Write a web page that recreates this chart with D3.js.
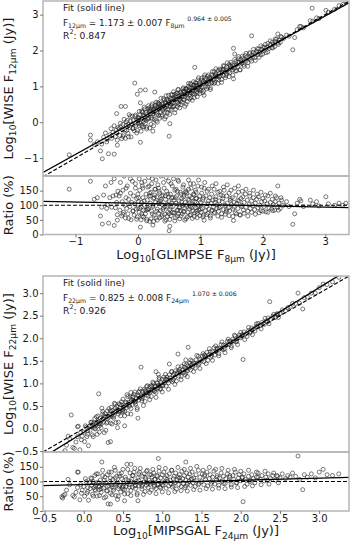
<!DOCTYPE html>
<html>
<head>
<meta charset="utf-8">
<script src="https://cdn.jsdelivr.net/npm/d3@7"></script>
<style>
  body { margin: 0; background: #fff; }
  text, tspan { font-family: "DejaVu Sans", sans-serif; fill: #1a1a1a; }
</style>
</head>
<body>
<svg id="chart" width="350" height="542"></svg>
<script>
// ---- data ----
const ticks8 = [-1, 0, 1, 2, 3];
const ticks24 = [-0.5, 0, 0.5, 1, 1.5, 2, 2.5, 3];
const ticksRatio = [0, 50, 100, 150];

// [log10 GLIMPSE F8um, log10 WISE F12um]
const pts12 = [
  [-1.10,-0.91],[-0.76,-0.36],[-0.76,-0.50],[-0.70,-0.62],[-0.65,-0.55],[-0.60,-0.80],[-0.58,-0.61],[-0.57,-1.02],
  [-0.55,-0.42],[-0.52,-0.30],[-0.50,-0.55],[-0.49,-0.48],[-0.47,-0.88],[-0.45,-0.35],[-0.43,-0.18],[-0.42,-0.45],
  [-0.40,-0.28],[-0.38,-0.89],[-0.38,-0.10],[-0.36,-0.40],[-0.35,-0.22],[-0.34,0.24],[-0.34,-0.30],[-0.33,-0.50],
  [-0.33,-0.64],[-0.32,-0.15],
  [-0.30,-0.18],[-0.29,-0.37],[-0.28,-0.03],[-0.27,0.44],[-0.26,-0.46],[-0.25,-0.20],[-0.24,-0.06],[-0.23,-0.35],
  [-0.22,0.08],[-0.21,-0.21],[-0.20,0.44],[-0.20,-0.45],[-0.19,-0.09],[-0.18,-0.23],[-0.17,0.05],[-0.16,-0.31],
  [-0.15,-0.07],[-0.14,0.21],[-0.13,-0.15],[-0.12,0.03],[-0.11,-0.41],[-0.10,-0.06],[-0.09,0.17],[-0.08,-0.18],
  [-0.07,0.05],[-0.06,-0.24],[-0.05,1.09],[-0.05,-0.03],[-0.04,0.16],[-0.03,-0.09],[-0.02,0.07],[-0.01,0.78],
  [-0.01,-0.23],[0.00,0.14],[0.00,-0.04],
  [-0.28,-0.13],[-0.24,-0.40],[-0.19,0.01],[-0.15,-0.41],[-0.12,0.16],[-0.08,-0.17],[-0.04,0.20],[-0.02,-0.30],
  [0.01,0.06],[0.02,-0.10],[0.03,0.21],[0.04,0.89],[0.04,0.54],[0.04,-0.56],[0.05,0.02],[0.06,0.31],[0.07,-0.13],
  [0.08,0.18],[0.09,0.01],[0.10,0.42],[0.11,0.11],[0.12,0.90],[0.12,-0.03],[0.13,0.27],[0.14,-0.14],[0.15,0.22],
  [0.16,0.37],[0.17,0.12],[0.18,0.30],[0.19,-0.16],[0.20,0.23],[0.21,0.37],[0.22,0.12],[0.23,0.51],[0.24,-0.25],
  [0.24,0.22],[0.25,0.34],[0.26,0.08],[0.27,0.84],[0.27,0.46],[0.28,0.32],[0.29,0.04],[0.30,0.41],[0.31,0.25],
  [0.32,0.55],[0.33,0.19],[0.34,0.40],[0.35,0.50],[0.36,0.27],[0.37,0.67],[0.38,0.16],[0.39,0.40],[0.40,0.53],
  [0.41,0.37],[0.42,0.62],[0.43,0.27],[0.44,0.52],[0.45,0.15],[0.46,0.63],[0.47,0.49],[0.48,0.37],[0.49,0.75],
  [0.50,-0.39],[0.50,0.55],[0.51,-0.04],[0.51,0.44],[0.52,0.66],[0.53,0.34],[0.54,0.64],[0.55,0.77],[0.56,0.54],
  [0.57,0.44],[0.58,0.65],[0.59,0.77],[0.60,0.36],[0.61,0.64],[0.62,0.74],[0.63,0.55],[0.64,0.91],[0.65,0.50],
  [0.66,0.72],[0.67,0.64],[0.68,0.84],[0.69,0.49],[0.70,0.79],[0.71,0.71],[0.72,0.93],[0.73,0.63],[0.74,0.87],
  [0.75,0.70],[0.76,0.80],[0.77,0.50],[0.78,0.93],[0.79,0.80],[0.80,0.68],[0.81,1.00],[0.82,0.89],[0.83,0.77],
  [0.84,1.08],[0.85,0.68],[0.86,0.96],[0.87,0.89],[0.88,0.79],[0.89,1.03],[0.90,0.69],[0.91,1.53],[0.91,0.96],
  [0.92,1.10],[0.93,0.89],[0.94,1.03],[0.95,0.81],[0.96,1.18],[0.97,0.97],[0.98,0.90],[0.99,1.11],[1.00,1.04],
  [0.03,-0.02],[0.08,0.28],[0.13,0.05],[0.18,0.40],[0.23,0.08],[0.28,0.47],[0.33,0.36],[0.38,0.50],[0.43,0.41],
  [0.48,0.62],[0.53,0.50],[0.58,0.45],[0.63,0.80],[0.68,0.59],[0.73,0.84],[0.78,0.76],[0.83,0.95],[0.88,0.93],
  [0.93,1.02],[0.98,1.05],[0.06,0.10],[0.16,0.09],[0.26,0.36],[0.36,0.42],[0.46,0.44],[0.56,0.66],[0.66,0.62],
  [0.76,0.92],[0.86,0.82],[0.96,0.93],
  [0.02,0.30],[0.05,-0.25],[0.07,0.29],[0.09,-0.13],[0.11,0.37],[0.14,-0.19],[0.17,0.46],[0.19,0.34],[0.21,-0.06],
  [0.22,0.46],[0.25,-0.10],[0.27,0.40],[0.29,0.56],[0.31,0.00],[0.33,0.53],[0.35,0.11],[0.37,0.45],[0.39,0.21],
  [0.41,0.66],[0.43,0.09],[0.45,0.74],[0.47,0.26],[0.49,0.60],[0.51,0.22],[0.53,0.77],[0.55,0.43],[0.57,0.85],
  [0.59,0.26],[0.61,0.80],[0.63,0.43],[0.65,0.91],[0.67,0.40],[0.69,0.83],[0.71,0.56],[0.73,0.96],[0.75,0.44],
  [0.77,0.94],[0.79,0.57],[0.81,1.08],[0.83,0.65],[0.85,1.05],[0.87,0.61],[0.89,1.13],[0.91,0.78],[0.93,1.09],
  [0.95,0.71],[0.97,1.24],[0.99,0.80],
  [0.01,0.11],[0.06,-0.09],[0.10,0.16],[0.15,0.09],[0.20,0.32],[0.24,0.24],[0.30,0.20],[0.34,0.51],[0.40,0.33],
  [0.44,0.56],[0.50,0.35],[0.54,0.57],[0.60,0.70],[0.64,0.56],[0.70,0.75],[0.74,0.63],[0.80,0.88],[0.84,0.82],
  [0.90,1.03],[0.94,0.84],[1.00,0.94],
  [1.01,0.89],[1.02,1.17],[1.03,0.98],[1.04,1.12],[1.05,0.87],[1.06,0.75],[1.06,1.26],[1.07,1.09],[1.08,0.99],
  [1.09,1.21],[1.10,1.08],[1.11,1.28],[1.12,0.98],[1.13,1.19],[1.14,1.08],[1.15,1.25],[1.16,0.96],[1.17,1.20],
  [1.18,1.32],[1.19,1.11],[1.20,1.27],[1.21,1.18],[1.22,1.41],[1.23,1.11],[1.24,1.28],[1.25,1.36],[1.26,1.21],
  [1.27,1.28],[1.28,1.44],[1.29,1.19],[1.30,1.36],[1.32,1.30],[1.33,1.46],[1.34,1.19],[1.35,1.40],[1.36,1.45],
  [1.37,1.30],[1.38,1.56],[1.40,1.40],[1.41,1.30],[1.42,1.54],[1.43,1.46],[1.45,1.41],[1.46,1.61],[1.47,1.38],
  [1.48,1.55],[1.50,1.51],[1.51,1.61],[1.52,1.46],[1.53,2.06],[1.53,1.21],[1.54,1.58],[1.55,1.90],[1.56,1.43],
  [1.57,1.70],[1.58,1.60],[1.60,1.55],[1.61,1.77],[1.62,1.68],[1.63,1.46],[1.65,1.74],[1.66,1.64],[1.68,1.79],
  [1.69,1.61],[1.70,1.74],[1.72,1.86],[1.73,1.70],[1.75,1.82],[1.76,1.66],[1.78,1.79],[1.79,1.91],[1.80,1.75],
  [1.82,2.41],[1.82,1.88],[1.84,1.83],[1.85,1.95],[1.87,1.80],[1.88,1.91],[1.90,1.98],[1.92,1.88],[1.93,2.04],
  [1.95,1.95],[1.97,1.88],[1.98,2.03],[2.00,2.09],[2.02,2.00],[2.03,2.09],[2.05,1.94],[2.07,2.09],[2.08,2.20],
  [2.10,2.06],[2.12,2.16],[2.14,2.08],[2.15,2.23],[2.17,2.18],[2.19,2.11],[2.20,2.25],[2.22,2.32],[2.24,2.46],
  [2.24,2.21],[2.26,2.29],[2.28,2.23],[2.30,2.37],
  [1.02,1.23],[1.04,0.82],[1.07,1.32],[1.10,0.93],[1.13,1.32],[1.16,0.91],[1.19,1.41],[1.22,1.08],[1.25,1.49],
  [1.28,1.08],[1.31,1.48],[1.34,1.11],[1.37,1.58],[1.40,1.24],[1.43,1.66],[1.46,1.27],[1.49,1.67],[1.52,1.31],
  [1.55,1.75],[1.58,1.43],[1.61,1.83],[1.64,1.46],[1.67,1.84],[1.70,1.56],[1.73,1.92],[1.76,1.56],[1.79,1.94],
  [1.82,1.70],[1.85,2.03],[1.88,1.72],[1.91,2.05],[1.94,1.81],[1.97,2.13],[2.00,1.90],[2.04,2.17],[2.08,1.96],
  [2.12,2.27],[2.16,2.07],[2.20,2.32],[2.25,2.17],[2.29,2.39],
  [1.05,1.15],[1.12,1.14],[1.18,1.09],[1.24,1.32],[1.30,1.26],[1.36,1.48],[1.42,1.35],[1.48,1.57],[1.54,1.51],
  [1.60,1.67],[1.66,1.66],
  [2.33,2.33],[2.38,2.43],[2.42,2.40],[2.48,2.02],[2.51,2.36],[2.55,2.58],[2.59,2.67],[2.61,2.67],[2.65,2.63],
  [2.76,2.83],[2.79,3.18],[2.80,2.82],[2.86,2.91],[2.90,2.89],[3.01,3.12],[3.05,3.07],[3.15,3.15],[3.22,3.25],
  [3.28,3.28],[3.33,3.36]
];

// [log10 MIPSGAL F24um, log10 WISE F22um]
const pts22 = [
  [-0.28,-0.60],[-0.27,-0.63],[-0.26,-0.54],[-0.22,-0.37],[-0.20,-0.17],[-0.16,0.30],[-0.14,-0.42],[-0.10,-0.30],
  [-0.08,-0.18],[-0.07,0.05],[-0.05,-0.47],[-0.04,-0.09],[-0.02,-0.17],[0.00,-0.08],[0.02,0.06],[0.04,-0.18],
  [-0.24,-0.49],[-0.18,-0.23],[-0.12,-0.44],[-0.08,0.04],[-0.03,-0.25],[0.01,-0.29],[0.03,0.03],
  [0.05,-0.13],[0.06,-0.38],[0.07,0.05],[0.08,-0.04],[0.09,0.14],[0.10,0.04],[0.11,-0.14],[0.12,0.12],[0.13,0.03],
  [0.14,0.22],[0.15,-0.01],[0.16,0.12],[0.17,-0.13],[0.18,0.28],[0.19,0.77],[0.19,0.11],[0.20,0.06],[0.21,0.23],
  [0.22,0.02],[0.23,0.18],[0.24,0.38],[0.25,0.14],[0.26,-0.09],[0.27,0.33],[0.28,0.26],[0.29,0.12],[0.30,0.39],
  [0.31,-0.31],[0.32,0.25],[0.33,0.33],[0.34,-0.29],[0.34,0.12],[0.35,0.47],[0.36,0.27],[0.37,0.40],[0.38,0.23],
  [0.39,0.56],[0.40,0.36],[0.41,0.13],[0.42,0.49],[0.43,0.02],[0.43,0.42],[0.44,0.32],[0.45,0.55],[0.46,0.40],
  [0.47,0.28],[0.48,0.52],[0.49,0.39],[0.50,0.65],[0.51,0.48],[0.52,0.06],[0.52,0.38],[0.53,0.59],[0.54,0.46],
  [0.55,0.75],[0.56,0.33],[0.57,0.58],[0.58,0.53],[0.59,0.70],[0.60,0.44],[0.61,0.64],[0.62,0.53],[0.63,0.71],
  [0.64,0.62],[0.65,0.81],[0.66,0.54],[0.67,0.67],[0.68,0.42],[0.69,0.23],[0.69,0.74],[0.70,0.63],[0.71,0.83],
  [0.72,0.69],[0.73,1.36],[0.74,0.61],[0.75,0.82],[0.76,0.75],[0.77,0.87],[0.78,0.60],[0.79,0.83],[0.80,0.74],
  [0.81,0.95],[0.82,0.72],[0.83,0.85],[0.84,0.93],[0.85,0.81],[0.86,0.71],[0.87,0.93],[0.88,0.86],[0.89,1.00],
  [0.90,0.82],[0.91,0.94],[0.92,1.26],[0.92,0.80],[0.93,1.01],[0.94,0.89],[0.95,0.96],[0.96,1.09],[0.97,0.88],
  [0.98,1.03],[0.99,0.97],[1.00,1.09],
  [0.05,-0.05],[0.15,0.08],[0.25,0.22],[0.35,0.30],[0.45,0.37],[0.55,0.52],[0.65,0.58],[0.75,0.70],[0.85,0.84],
  [0.95,0.91],[0.10,0.14],[0.20,0.11],[0.30,0.22],[0.40,0.45],[0.50,0.42],[0.60,0.60],[0.70,0.72],[0.80,0.79],
  [0.90,0.93],[1.00,0.95],
  [0.12,-0.18],[0.16,0.26],[0.20,-0.08],[0.24,0.32],[0.28,-0.04],[0.32,0.44],[0.36,0.10],[0.40,0.54],[0.44,0.14],
  [0.48,0.59],[0.52,0.28],[0.56,0.71],[0.60,0.32],[0.64,0.76],[0.68,0.46],[0.72,0.88],[0.76,0.51],[0.80,0.93],
  [0.84,0.64],[0.88,1.03],[0.92,0.69],[0.96,1.13],[0.23,0.45],[0.60,0.80],[0.95,1.20],
  [0.08,0.06],[0.14,0.00],[0.18,0.17],[0.22,0.10],[0.26,0.28],[0.30,0.14],[0.34,0.39],[0.38,0.27],[0.42,0.38],
  [0.46,0.53],[0.50,0.37],[0.54,0.57],[0.58,0.49],[0.62,0.70],[0.66,0.60],[0.70,0.80],[0.74,0.66],[0.78,0.84],
  [0.82,0.79],[0.86,0.95],[0.90,0.84],[0.94,1.01],[0.98,0.87],
  [1.01,0.95],[1.02,1.14],[1.03,1.02],[1.04,1.09],[1.05,0.94],[1.06,1.14],[1.07,1.07],[1.08,1.01],[1.09,1.43],
  [1.09,1.19],[1.10,1.12],[1.11,1.07],[1.12,1.26],[1.13,1.04],[1.14,1.18],[1.15,1.22],[1.16,1.14],[1.17,1.28],
  [1.18,1.05],[1.19,1.22],[1.20,1.65],[1.20,1.26],[1.21,1.16],[1.22,1.31],[1.23,1.24],[1.24,1.16],[1.25,1.38],
  [1.26,1.30],[1.27,1.24],[1.28,1.36],[1.29,1.19],[1.30,1.32],[1.31,1.42],[1.32,1.28],[1.33,1.80],[1.33,1.39],
  [1.34,1.34],[1.35,1.45],[1.36,1.30],[1.37,1.40],[1.38,1.50],[1.39,1.37],[1.40,1.45],[1.42,1.34],[1.43,1.52],
  [1.44,1.45],[1.46,1.60],[1.47,1.44],[1.48,1.54],[1.50,1.50],[1.51,1.61],[1.53,1.48],[1.54,1.61],[1.55,1.58],
  [1.57,1.69],[1.58,1.51],[1.60,1.64],[1.61,1.70],[1.63,1.62],[1.64,1.70],[1.66,1.79],[1.67,1.63],[1.69,1.71],
  [1.70,1.78],[1.72,1.66],[1.73,1.78],[1.75,1.86],[1.76,1.76],[1.78,1.85],[1.80,1.77],[1.81,1.85],[1.83,1.93],
  [1.85,1.86],[1.86,1.92],[1.88,1.83],[1.90,1.98],[1.91,1.94],[1.93,2.05],[1.95,1.93],[1.97,2.02],[1.98,2.07],
  [2.00,2.01],[2.02,2.08],[2.03,1.53],[2.04,2.14],[2.06,2.09],[2.08,2.04],[2.10,2.17],[2.12,2.14],[2.14,2.23],
  [2.16,2.20],[2.18,2.16],[2.20,2.26],[2.22,2.33],[2.25,2.28],[2.27,2.35],[2.30,2.31],[2.32,2.38],[2.35,2.45],
  [2.37,2.81],[2.38,2.42],[2.41,2.49],[2.44,2.46],[2.47,2.54],[2.50,2.55],
  [1.00,0.81],[1.04,1.20],[1.08,0.87],[1.12,1.26],[1.16,0.98],[1.20,1.37],[1.24,1.08],[1.28,1.43],[1.32,1.15],
  [1.36,1.52],[1.40,1.26],[1.44,1.62],[1.48,1.33],[1.52,1.66],[1.56,1.44],[1.60,1.77],[1.64,1.51],[1.68,1.83],
  [1.72,1.61],[1.76,1.92],[1.80,1.68],[1.84,1.98],[1.88,1.79],[1.92,2.07],[1.96,1.86],[2.00,2.13],[2.05,1.97],
  [2.10,2.24],[2.15,2.08],[2.20,2.32],[2.26,2.21],[2.31,2.44],[2.36,2.32],[2.42,2.53],[2.48,2.46],[1.30,1.52],
  [1.06,1.09],[1.14,1.08],[1.22,1.27],[1.30,1.23],[1.38,1.42],[1.46,1.41],[1.54,1.63],[1.62,1.58],[1.70,1.76],
  [1.78,1.75],[1.86,1.94],[1.94,1.92],[2.02,2.07],[2.12,2.12],[2.22,2.28],[2.34,2.36],[2.46,2.54],
  [2.53,2.63],[2.57,2.61],[2.60,2.68],[2.63,2.69],[2.66,2.77],[2.70,2.77],[2.73,3.00],[2.75,2.78],[2.79,2.65],
  [2.81,2.90],[2.85,2.91],[2.90,3.00],[2.95,3.00],[3.00,3.12],[3.05,3.20],[3.10,3.19],[3.17,3.25],[3.25,3.35]
];

// line endpoints in data units
const fitLine12 = [[-1.52, -1.40], [3.38, 3.33]];
const oneToOne12 = [[-1.52, -1.52], [3.38, 3.38]];
const ratioFit12 = [[-1.52, 113], [3.38, 92]];
const fitLine22 = [[-0.52, -0.64], [3.38, 3.53]];
const oneToOne22 = [[-0.52, -0.52], [3.38, 3.38]];
const ratioFit22 = [[-0.52, 86], [3.38, 114]];
const ratioOne = 100;

const svg = d3.select('#chart');
const L = 43, R = 349;

function rich(t, parts, size) {
  t.selectAll('tspan').remove();
  let shift = 0;
  parts.forEach(p => {
    const target = p.s === 'sub' ? size * 0.3 : p.s === 'sup' ? -size * 0.5 : 0;
    t.append('tspan')
      .attr('dy', target - shift)
      .attr('font-size', p.s ? size * 0.7 : size)
      .attr('fill', '#1a1a1a')
      .text(p.t);
    shift = target;
  });
}

// draw, then resize so the line spans the width seen in the reference
function richFit(t, parts, size, width) {
  rich(t, parts, size);
  const w = t.node().getComputedTextLength();
  if (w > 0) rich(t, parts, size * width / w);
}

function panel(o) {
  const g = svg.append('g');
  const x = d3.scaleLinear().domain(o.xDom).range([L, R]);
  const y = d3.scaleLinear().domain(o.yDom).range([o.mid, o.top]);
  const yr = d3.scaleLinear().domain([0, 200]).range([o.bot, o.mid]);

  const cm = 'cm' + o.id, cr = 'cr' + o.id;
  const defs = g.append('defs');
  defs.append('clipPath').attr('id', cm).append('rect')
    .attr('x', L).attr('y', o.top).attr('width', R - L).attr('height', o.mid - o.top);
  defs.append('clipPath').attr('id', cr).append('rect')
    .attr('x', L).attr('y', o.mid).attr('width', R - L).attr('height', o.bot - o.mid);

  const line = (sx, sy) => d3.line().x(d => sx(d[0])).y(d => sy(d[1]));

  // main scatter
  const gm = g.append('g').attr('clip-path', `url(#${cm})`);
  gm.selectAll('circle').data(o.pts).join('circle')
    .attr('cx', d => x(d[0])).attr('cy', d => y(d[1])).attr('r', 2)
    .attr('fill', 'none').attr('stroke', '#222').attr('stroke-width', 0.6);
  gm.append('path').attr('d', line(x, y)(o.oneToOne))
    .attr('stroke', '#000').attr('stroke-width', 1.2).attr('stroke-dasharray', '4,2').attr('fill', 'none');
  gm.append('path').attr('d', line(x, y)(o.fit))
    .attr('stroke', '#000').attr('stroke-width', 1.3).attr('fill', 'none');

  // ratio panel, F_wise / F_other in percent
  const ratio = o.pts.map(([a, b]) => [a, 100 * Math.pow(10, b - a)]);
  const gr = g.append('g').attr('clip-path', `url(#${cr})`);
  gr.selectAll('circle').data(ratio).join('circle')
    .attr('cx', d => x(d[0])).attr('cy', d => yr(d[1])).attr('r', 2)
    .attr('fill', 'none').attr('stroke', '#222').attr('stroke-width', 0.6);
  gr.append('path').attr('d', line(x, yr)([[o.xDom[0], ratioOne], [o.xDom[1], ratioOne]]))
    .attr('stroke', '#000').attr('stroke-width', 1.2).attr('stroke-dasharray', '4,2').attr('fill', 'none');
  gr.append('path').attr('d', line(x, yr)(o.ratioFit))
    .attr('stroke', '#000').attr('stroke-width', 1.3).attr('fill', 'none');

  // frames
  [[o.top, o.mid], [o.mid, o.bot]].forEach(([a, b]) => {
    g.append('rect').attr('x', L).attr('y', a).attr('width', R - L).attr('height', b - a)
      .attr('fill', 'none').attr('stroke', '#b5b5b5').attr('stroke-width', 1.5);
  });

  const style = s => {
    s.select('.domain').remove();
    s.selectAll('.tick line').attr('stroke', '#777');
    s.selectAll('.tick text').attr('font-size', 10).attr('fill', '#1a1a1a')
      .attr('font-family', '"DejaVu Sans", sans-serif');
  };
  g.append('g').attr('transform', `translate(${L},0)`)
    .call(d3.axisLeft(y).tickValues(o.yTicks).tickFormat(o.fmt).tickSize(3).tickPadding(1.5)).call(style);
  g.append('g').attr('transform', `translate(${L},0)`)
    .call(d3.axisLeft(yr).tickValues(ticksRatio).tickFormat(d3.format('d')).tickSize(3).tickPadding(1.5)).call(style);
  g.append('g').attr('transform', `translate(0,${o.bot})`)
    .call(d3.axisBottom(x).tickValues(o.xTicks).tickFormat(o.fmt).tickSize(3).tickPadding(0.5)).call(style);

  // axis labels
  const yl = g.append('text').attr('text-anchor', 'middle')
    .attr('transform', `translate(12.5,${(o.top + o.mid) / 2}) rotate(-90)`);
  rich(yl, o.yLabel, 13);
  g.append('text').attr('text-anchor', 'middle').attr('font-size', 13)
    .attr('transform', `translate(12.5,${(o.mid + o.bot) / 2}) rotate(-90)`).text('Ratio (%)');
  const xl = g.append('text').attr('text-anchor', 'middle')
    .attr('x', (L + R) / 2).attr('y', o.bot + 24);
  rich(xl, o.xLabel, 13);

  // fit annotation
  richFit(g.append('text').attr('x', 63).attr('y', o.top + 10), [{ t: 'Fit (solid line)' }], 9, 62);
  richFit(g.append('text').attr('x', 63).attr('y', o.top + 24.5), o.eq, 9, o.eqWidth);
  richFit(g.append('text').attr('x', 63).attr('y', o.top + 38),
    [{ t: 'R' }, { t: '2', s: 'sup' }, { t: ': ' + o.r2 }], 9, 43);
}

panel({
  id: 1, top: 1, mid: 176, bot: 234.5,
  xDom: [-1.52, 3.38], yDom: [-1.5, 3.38],
  xTicks: ticks8, yTicks: ticks8, fmt: d3.format('d'),
  pts: pts12, fit: fitLine12, oneToOne: oneToOne12, ratioFit: ratioFit12,
  yLabel: [{ t: 'Log' }, { t: '10', s: 'sub' }, { t: '[WISE F' }, { t: '12μm', s: 'sub' }, { t: ' (Jy)]' }],
  xLabel: [{ t: 'Log' }, { t: '10', s: 'sub' }, { t: '[GLIMPSE F' }, { t: '8μm', s: 'sub' }, { t: ' (Jy)]' }],
  eq: [{ t: 'F' }, { t: '12μm', s: 'sub' }, { t: ' = 1.173 ± 0.007 F' }, { t: '8μm', s: 'sub' }, { t: ' ' }, { t: '0.964 ± 0.005', s: 'sup' }],
  eqWidth: 169, r2: '0.847'
});

panel({
  id: 2, top: 276, mid: 452, bot: 511,
  xDom: [-0.52, 3.38], yDom: [-0.52, 3.38],
  xTicks: ticks24, yTicks: ticks24, fmt: d3.format('.1f'),
  pts: pts22, fit: fitLine22, oneToOne: oneToOne22, ratioFit: ratioFit22,
  yLabel: [{ t: 'Log' }, { t: '10', s: 'sub' }, { t: '[WISE F' }, { t: '22μm', s: 'sub' }, { t: ' (Jy)]' }],
  xLabel: [{ t: 'Log' }, { t: '10', s: 'sub' }, { t: '[MIPSGAL F' }, { t: '24μm', s: 'sub' }, { t: ' (Jy)]' }],
  eq: [{ t: 'F' }, { t: '22μm', s: 'sub' }, { t: ' = 0.825 ± 0.008 F' }, { t: '24μm', s: 'sub' }, { t: ' ' }, { t: '1.070 ± 0.006', s: 'sup' }],
  eqWidth: 174, r2: '0.926'
});
</script>
</body>
</html>
